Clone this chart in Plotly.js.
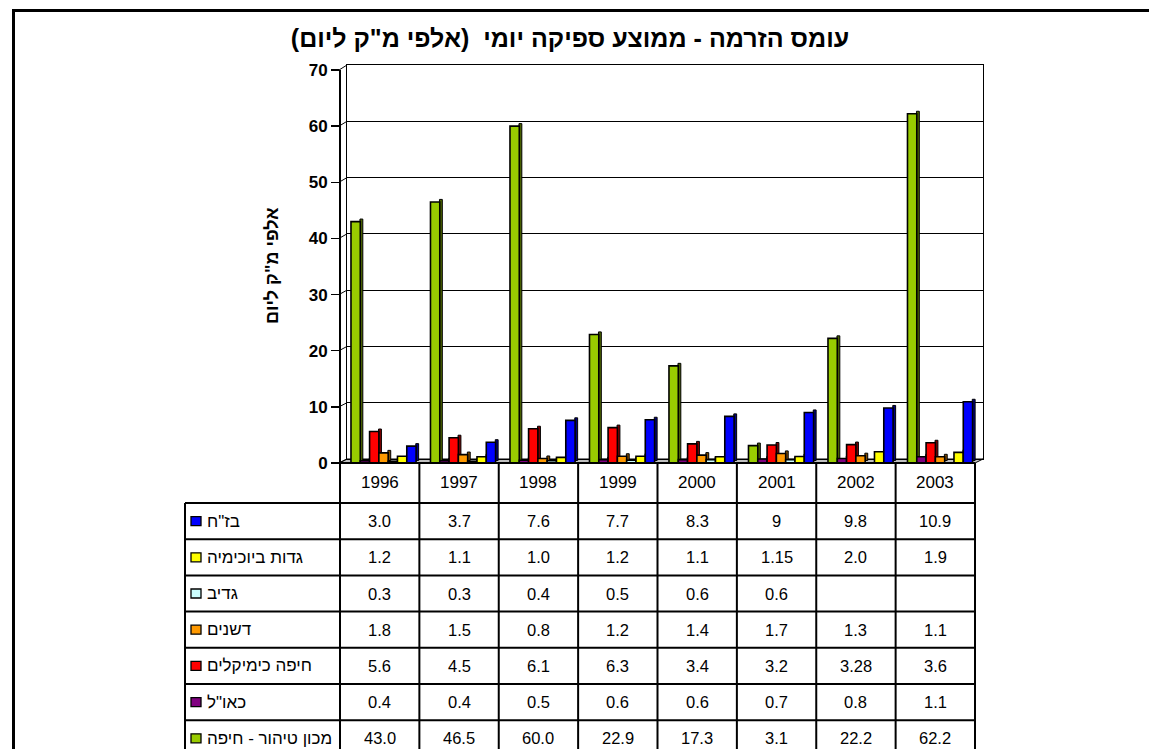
<!DOCTYPE html>
<html><head><meta charset="utf-8">
<script src="https://cdn.plot.ly/plotly-3.0.1.min.js"></script>
<style>html,body{margin:0;padding:0;background:#fff;} #chart{width:1149px;height:749px;}</style>
</head><body><div id="chart"></div>
<script>
// ---------- data ----------
const years = ['1996','1997','1998','1999','2000','2001','2002','2003'];
const bazan          = ['3.0','3.7','7.6','7.7','8.3','9','9.8','10.9'];
const gadotBio       = ['1.2','1.1','1.0','1.2','1.1','1.15','2.0','1.9'];
const gadiv          = ['0.3','0.3','0.4','0.5','0.6','0.6','',''];
const deshanim       = ['1.8','1.5','0.8','1.2','1.4','1.7','1.3','1.1'];
const haifaChemicals = ['5.6','4.5','6.1','6.3','3.4','3.2','3.28','3.6'];
const kaol           = ['0.4','0.4','0.5','0.6','0.6','0.7','0.8','1.1'];
const haifaPlant     = ['43.0','46.5','60.0','22.9','17.3','3.1','22.2','62.2'];
const seriesNames = ['בז"ח','גדות ביוכימיה','גדיב','דשנים','חיפה כימיקלים','כאו"ל','מכון טיהור - חיפה'];
const yTicks = [0,10,20,30,40,50,60,70];
const titleText = 'עומס הזרמה - ממוצע ספיקה יומי\u00A0 (אלפי מ"ק ליום)\u200F';
const yTitleText = 'אלפי מ"ק ליום';

// ---------- styling ----------
const tableSeries = [bazan, gadotBio, gadiv, deshanim, haifaChemicals, kaol, haifaPlant];
const frontColors = ['#0000FF','#FFFF00','#CCFFFF','#FF9900','#FF0000','#800080','#99CC00'];
const sideColors  = ['#000080','#808000','#669999','#804C00','#800000','#400040','#4D6600'];
const FONT = 'Arial, "Liberation Sans", "DejaVu Sans", sans-serif';

const W = 1149, H = 749;
const px = x => x / W;
const py = y => 1 - y / H;

// geometry (pixels)
const backL = 347, backR = 983, backTop = 65, backBottom = 459;
const frontX = 339, frontTop = 70, frontBottom = 463;
const tableL = 185, colL = 340, colR = 975;
const headerTop = 463, firstRowTop = 503, rowH = 36.2;
const colW = (colR - colL) / years.length;

const num = s => (s === '' ? null : parseFloat(s));

// bars drawn from green (left) to blue (right) inside each year
const barOrder = [6,5,4,3,2,1,0];
const barW = 0.117, groupStart = -0.45, sideW = 0.036, lift = 0.45;

const traces = [];
// helper trace so that the back-wall grid axis is drawn
traces.push({type: 'scatter', mode: 'markers', x: [years[0]], y: [0], xaxis: 'x', yaxis: 'y',
  marker: {opacity: 0}, hoverinfo: 'skip', showlegend: false});
// side faces first
barOrder.forEach((k, j) => {
  traces.push({
    type: 'bar', x: years, y: tableSeries[k].map(num), base: lift,
    offset: groupStart + (j + 1) * barW - 0.004, width: sideW,
    marker: {color: sideColors[k], line: {color: '#000', width: 1}},
    hoverinfo: 'skip', showlegend: false, xaxis: 'x', yaxis: 'y2'
  });
});
// front faces
barOrder.forEach((k, j) => {
  traces.push({
    type: 'bar', name: seriesNames[k], x: years, y: tableSeries[k].map(num),
    offset: groupStart + j * barW, width: barW,
    marker: {color: frontColors[k], line: {color: '#000', width: 1.6}},
    hoverinfo: 'skip', showlegend: false, xaxis: 'x', yaxis: 'y2'
  });
});

const shapes = [];
const line = (x0, y0, x1, y1, w) => shapes.push({type: 'line', xref: 'paper', yref: 'paper',
  x0: px(x0), y0: py(y0), x1: px(x1), y1: py(y1), line: {color: '#000', width: w}});

// outer frame
line(13.5, 10, 13.5, 800, 3);
line(12, 10.5, 1200, 10.5, 3);

// floor (under the bars)
shapes.push({type: 'path', xref: 'paper', yref: 'paper', layer: 'below',
  path: `M${px(frontX)},${py(frontBottom)} L${px(colR)},${py(frontBottom)} L${px(backR)},${py(backBottom)} L${px(backL)},${py(backBottom)} Z`,
  fillcolor: '#c0c0c0', line: {color: '#000', width: 1}});

// left wall connectors at ticks
yTicks.forEach(v => {
  const yf = frontBottom - v * (frontBottom - frontTop) / 70;
  const yb = backBottom - v * (backBottom - backTop) / 70;
  line(frontX, yf, backL, yb, 1);
});

// table grid
const rowsBottom = 800;
line(colL, headerTop, colR, headerTop, 2);
for (let r = 0; r <= seriesNames.length; r++) {
  const y = firstRowTop + r * rowH;
  line(tableL, y, colR, y, 2);
}
line(tableL, firstRowTop, tableL, rowsBottom, 2);
for (let c = 0; c <= years.length; c++) {
  const x = colL + c * colW;
  line(x, headerTop, x, rowsBottom, 2);
}

// legend keys
seriesNames.forEach((n, k) => {
  const yc = firstRowTop + (k + 0.5) * rowH;
  shapes.push({type: 'rect', xref: 'paper', yref: 'paper',
    x0: px(191), x1: px(201), y0: py(yc - 4.5), y1: py(yc + 4.5),
    fillcolor: frontColors[k], line: {color: '#000', width: 1.3}});
});

const annotations = [];
const ann = (text, x, y, size, opts = {}) => annotations.push(Object.assign({
  text, xref: 'paper', yref: 'paper', x: px(x), y: py(y), showarrow: false,
  xanchor: 'center', yanchor: 'middle', font: {family: FONT, size, color: '#000'}
}, opts));

years.forEach((yr, c) => ann(yr, colL + (c + 0.5) * colW, (headerTop + firstRowTop) / 2, 17));
tableSeries.forEach((vals, k) => {
  const yc = firstRowTop + (k + 0.5) * rowH;
  vals.forEach((v, c) => { if (v !== '') ann(v, colL + (c + 0.5) * colW, yc, 16.5); });
  ann(seriesNames[k], 205, yc, 17, {xanchor: 'left'});
});
ann(yTitleText, 272, 266, 18, {textangle: -90, font: {family: FONT, size: 18, color: '#000', weight: 700}});

const layout = {
  width: W, height: H,
  margin: {l: 0, r: 0, t: 0, b: 0},
  paper_bgcolor: '#fff', plot_bgcolor: 'rgba(0,0,0,0)',
  showlegend: false, barmode: 'overlay',
  title: {text: titleText, x: px(570), xanchor: 'center', y: py(38), yanchor: 'middle',
    font: {family: FONT, size: 25, color: '#000', weight: 700}},
  xaxis: {type: 'category', domain: [px(backL), px(backR)], range: [-0.5, 7.5],
    showticklabels: false, ticks: '', showgrid: false, zeroline: false,
    showline: true, mirror: true, linecolor: '#000', linewidth: 1, anchor: 'y', fixedrange: true},
  yaxis: {domain: [py(backBottom), py(backTop)], range: [0, 70], tickvals: yTicks,
    showticklabels: false, ticks: '', showgrid: true, gridcolor: '#000', gridwidth: 1,
    zeroline: false, showline: true, mirror: true, linecolor: '#000', linewidth: 1, anchor: 'x', fixedrange: true},
  yaxis2: {domain: [py(frontBottom), py(frontTop)], range: [0, 70], tickvals: yTicks,
    anchor: 'free', position: px(frontX), side: 'left',
    showgrid: false, zeroline: false, showline: true, linecolor: '#000', linewidth: 1.5,
    ticks: 'outside', ticklen: 8, tickwidth: 1.5, tickcolor: '#000',
    tickfont: {family: FONT, size: 17, color: '#000', weight: 700}, fixedrange: true},
  shapes, annotations
};

Plotly.newPlot('chart', traces, layout, {displayModeBar: false, staticPlot: true});
</script></body></html>
